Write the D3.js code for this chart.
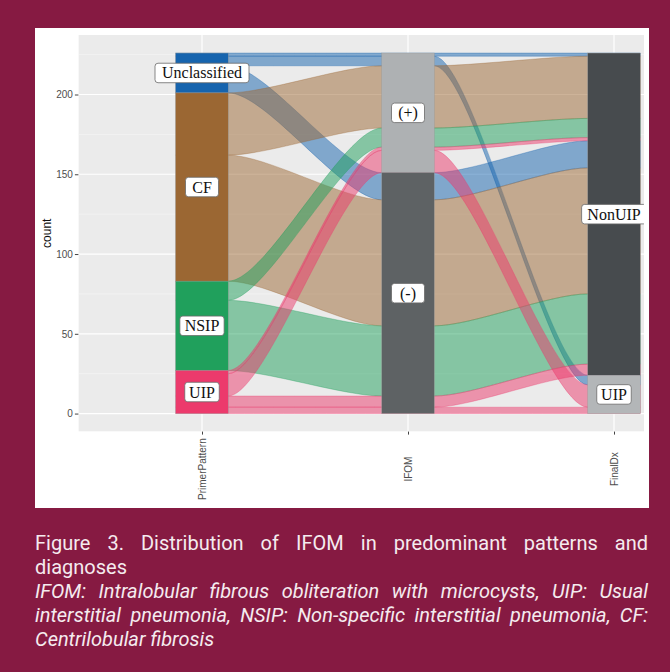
<!DOCTYPE html>
<html><head><meta charset="utf-8">
<script src="https://cdn.jsdelivr.net/npm/d3@7"></script>
<style>
html,body{margin:0;padding:0;background:#861a42;}
body{width:670px;height:672px;overflow:hidden;}
svg{display:block;}
</style></head><body>
<svg id="chart" width="670" height="672"></svg>
<script>
// ---------------- data ----------------
const axisNames = ["PrimerPattern", "IFOM", "FinalDx"];
const primerLevels = ["Unclassified", "CF", "NSIP", "UIP"];   // top to bottom
const ifomLevels = ["(+)", "(-)"];
const finalLevels = ["NonUIP", "UIP"];
// one entry per alluvium (PrimerPattern, IFOM, FinalDx, count)
const flowPrimer = ["Unclassified","Unclassified","Unclassified","CF","CF","NSIP","NSIP","UIP","UIP","UIP","UIP"];
const flowIfom   = ["(+)","(+)","(-)","(+)","(-)","(+)","(-)","(+)","(+)","(-)","(-)"];
const flowFinal  = ["NonUIP","UIP","NonUIP","NonUIP","NonUIP","NonUIP","NonUIP","NonUIP","UIP","NonUIP","UIP"];
const flowCount  = [2, 6, 17, 39, 79, 12, 44, 2, 14, 7, 4];
const yTicks = [0, 50, 100, 150, 200];
const yMinorTicks = [25, 75, 125, 175, 225];
const yTitle = "count";
const captionTitle = ["Figure 3. Distribution of IFOM in predominant patterns and", "diagnoses"];
const captionNote = ["IFOM: Intralobular fibrous obliteration with microcysts, UIP: Usual",
  "interstitial pneumonia, NSIP: Non-specific interstitial pneumonia, CF:",
  "Centrilobular fibrosis"];

// ---------------- styles ----------------
const primerColors = ["#1664ae", "#9b6733", "#20a05c", "#ec3a6c"];
const ifomColors = ["#aeb1b3", "#5e6264"];
const finalColors = ["#474b4e", "#b3b6b8"];
const levelColors = [primerColors, ifomColors, finalColors];
const levels = [primerLevels, ifomLevels, finalLevels];

const svg = d3.select("#chart");
svg.append("rect").attr("width", 670).attr("height", 672).attr("fill", "#861a42");
svg.append("rect").attr("x", 35).attr("y", 28).attr("width", 614).attr("height", 480).attr("fill", "#ffffff");

const total = d3.sum(flowCount);
const panel = {left: 78.4, top: 35, bottom: 431.6, right: 644};
const x = d3.scalePoint().domain(axisNames).range([panel.left, panel.left + 206 * 3.2]).padding(0.6);
const y = d3.scaleLinear().domain([-0.05 * total, 1.05 * total]).range([panel.bottom, panel.top]);
const sw = x.step() * 0.255;

svg.append("defs").append("clipPath").attr("id", "pclip")
  .append("rect").attr("x", panel.left).attr("y", panel.top)
  .attr("width", panel.right - panel.left).attr("height", panel.bottom - panel.top);

const plot = svg.append("g").attr("clip-path", "url(#pclip)");
plot.append("rect").attr("x", panel.left).attr("y", panel.top)
  .attr("width", panel.right - panel.left).attr("height", panel.bottom - panel.top).attr("fill", "#ebebeb");
plot.selectAll(".gminor").data(yMinorTicks).join("line")
  .attr("x1", panel.left).attr("x2", panel.right).attr("y1", d => y(d)).attr("y2", d => y(d))
  .attr("stroke", "#f6f6f6").attr("stroke-width", 0.6);
plot.selectAll(".gmajor").data(yTicks).join("line")
  .attr("x1", panel.left).attr("x2", panel.right).attr("y1", d => y(d)).attr("y2", d => y(d))
  .attr("stroke", "#ffffff").attr("stroke-width", 1.2);
plot.selectAll(".gx").data(axisNames).join("line")
  .attr("x1", d => x(d)).attr("x2", d => x(d)).attr("y1", panel.top).attr("y2", panel.bottom)
  .attr("stroke", "#ffffff").attr("stroke-width", 1.2);

// ---------------- alluvia layout ----------------
const alluvia = flowCount.map((n, i) => ({n, s: [flowPrimer[i], flowIfom[i], flowFinal[i]], top: [], bot: [], fill: primerColors[primerLevels.indexOf(flowPrimer[i])]}));
const orderKeys = [[0, 1, 2], [1, 0, 2], [2, 1, 0]];
orderKeys.forEach((keys, a) => {
  const sorted = alluvia.slice().sort((p, q) => {
    for (const k of keys) {
      const d = levels[k].indexOf(p.s[k]) - levels[k].indexOf(q.s[k]);
      if (d !== 0) return d;
    }
    return 0;
  });
  let cum = total;
  sorted.forEach(al => { al.top[a] = cum; cum -= al.n; al.bot[a] = cum; });
});

const kpos = 0.25;
function curve(p, x0, y0, x1, y1) {
  const dx = x1 - x0;
  p.bezierCurveTo(x0 + kpos * dx, y0, x1 - kpos * dx, y1, x1, y1);
}
function alluviumPath(al) {
  const xs = axisNames.map(n => x(n));
  const h = sw / 2;
  const p = d3.path();
  p.moveTo(xs[0] - h, y(al.top[0]));
  for (let a = 0; a < 3; a++) {
    p.lineTo(xs[a] + h, y(al.top[a]));
    if (a < 2) curve(p, xs[a] + h, y(al.top[a]), xs[a + 1] - h, y(al.top[a + 1]));
  }
  p.lineTo(xs[2] + h, y(al.bot[2]));
  for (let a = 2; a >= 0; a--) {
    p.lineTo(xs[a] - h, y(al.bot[a]));
    if (a > 0) curve(p, xs[a] - h, y(al.bot[a]), xs[a - 1] + h, y(al.bot[a - 1]));
  }
  p.closePath();
  return p.toString();
}
plot.selectAll(".alluvium").data(alluvia).join("path")
  .attr("d", alluviumPath)
  .attr("fill", d => d.fill).attr("fill-opacity", 0.5)
  .attr("stroke", d => d.fill).attr("stroke-opacity", 0.45).attr("stroke-width", 0.7);

// ---------------- strata ----------------
const strata = [];
levels.forEach((lv, a) => {
  let cum = total;
  lv.forEach((name, j) => {
    const n = d3.sum(alluvia.filter(al => al.s[a] === name), al => al.n);
    strata.push({axis: axisNames[a], name, top: cum, bot: cum - n, color: levelColors[a][j]});
    cum -= n;
  });
});
plot.selectAll(".stratum").data(strata).join("rect")
  .attr("x", d => x(d.axis) - sw / 2).attr("width", sw)
  .attr("y", d => y(d.top)).attr("height", d => y(d.bot) - y(d.top))
  .attr("fill", d => d.color).attr("stroke", "#9a9a9a").attr("stroke-width", 0.4);

// labels
const lab = plot.selectAll(".lab").data(strata).join("g")
  .attr("transform", d => `translate(${x(d.axis)},${(y(d.top) + y(d.bot)) / 2})`);
lab.append("rect").attr("fill", "#ffffff").attr("stroke", "#6a6a6a").attr("stroke-width", 0.8).attr("rx", 3);
lab.append("text").text(d => d.name)
  .attr("text-anchor", "middle").attr("y", 5.5)
  .attr("font-family", "'Liberation Serif','Times New Roman',serif").attr("font-size", 16).attr("fill", "#111");
lab.each(function () {
  const g = d3.select(this);
  const bb = g.select("text").node().getBBox();
  const w = Math.max(bb.width * 1.1 + 6, 33), hgt = 19.5;
  g.select("rect").attr("x", -w / 2).attr("y", -hgt / 2).attr("width", w).attr("height", hgt);
});

// ---------------- axes ----------------
const yAxis = svg.append("g").attr("transform", `translate(${panel.left},0)`)
  .call(d3.axisLeft(y).tickValues(yTicks).tickSize(3.5).tickPadding(2));
yAxis.select(".domain").remove();
yAxis.selectAll("line").attr("stroke", "#444");
yAxis.selectAll("text").attr("fill", "#4d4d4d").attr("font-size", 10)
  .attr("font-family", "'Liberation Sans',Arial,sans-serif");

const xAxis = svg.append("g").attr("transform", `translate(0,${panel.bottom})`)
  .call(d3.axisBottom(x).tickSize(3).tickPadding(0));
xAxis.select(".domain").remove();
xAxis.selectAll("line").attr("stroke", "#444");
xAxis.selectAll("text").attr("fill", "#4d4d4d").attr("font-size", 10)
  .attr("font-family", "'Liberation Sans',Arial,sans-serif")
  .attr("text-anchor", "middle").attr("dy", null).attr("y", null)
  .attr("dominant-baseline", "central")
  .attr("transform", "translate(0,37.5) rotate(-90)");

svg.append("text").text(yTitle)
  .attr("transform", `translate(47,${(panel.top + panel.bottom) / 2}) rotate(-90)`)
  .attr("text-anchor", "middle").attr("dominant-baseline", "central")
  .attr("font-size", 12).attr("fill", "#111")
  .attr("font-family", "'Liberation Sans',Arial,sans-serif");

// ---------------- caption ----------------
const capLeft = 35, capWidth = 613, lineH = 24, firstBase = 550;
const capLines = [];
captionTitle.forEach((t, i) => capLines.push({t, italic: false, justify: i < captionTitle.length - 1}));
captionNote.forEach((t, i) => capLines.push({t, italic: true, justify: i < captionNote.length - 1}));
capLines.forEach((ln, i) => {
  const tx = svg.append("text").text(ln.t)
    .attr("x", capLeft).attr("y", firstBase + i * lineH)
    .attr("font-family", "Roboto,'Open Sans',sans-serif").attr("font-size", 20)
    .attr("font-style", ln.italic ? "italic" : "normal")
    .attr("fill", "#f5ebef");
  if (ln.justify) {
    const w0 = tx.node().getComputedTextLength();
    const spaces = (ln.t.match(/ /g) || []).length;
    if (spaces > 0) tx.style("word-spacing", ((capWidth - w0) / spaces) + "px");
  }
});
</script>
</body></html>
